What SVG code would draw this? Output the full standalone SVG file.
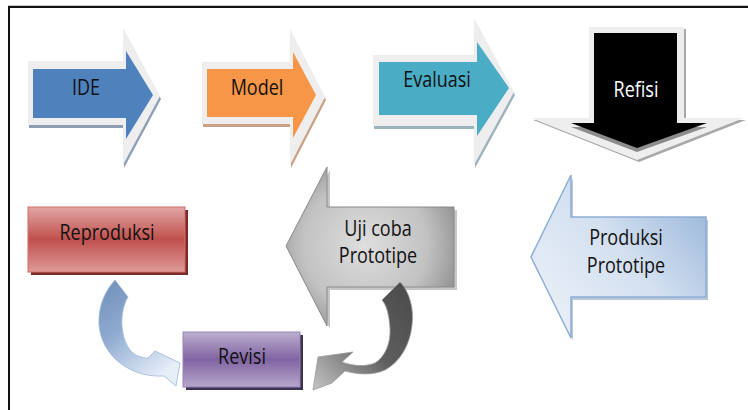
<svg xmlns="http://www.w3.org/2000/svg" width="748" height="410" viewBox="0 0 748 410">
<defs>
  <style>
    .lbl{font-family:"Open Sans","Liberation Sans",sans-serif;font-size:18px;fill:#111;text-anchor:middle}
    .lblw{font-family:"Open Sans","Liberation Sans",sans-serif;font-size:18px;fill:#fff;text-anchor:middle}
    .rim{fill:#eeeeee}
    .frame{stroke:#111;stroke-width:2;fill:none}
  </style>
  <linearGradient id="gRed" x1="0" y1="0" x2="0" y2="1">
    <stop offset="0" stop-color="#e2a7a5"/><stop offset="0.5" stop-color="#c0504d"/><stop offset="1" stop-color="#dd9a98"/>
  </linearGradient>
  <linearGradient id="gPurple" x1="0" y1="0" x2="0" y2="1">
    <stop offset="0" stop-color="#bcaed0"/><stop offset="0.5" stop-color="#8064a2"/><stop offset="1" stop-color="#b7a6cc"/>
  </linearGradient>
  <radialGradient id="gGray" cx="365" cy="245" r="125" gradientUnits="userSpaceOnUse">
    <stop offset="0" stop-color="#dedede"/><stop offset="0.5" stop-color="#c2c2c2"/><stop offset="1" stop-color="#6e6e6e"/>
  </radialGradient>
  <linearGradient id="gBlue" x1="531" y1="338" x2="706" y2="190" gradientUnits="userSpaceOnUse">
    <stop offset="0" stop-color="#eef3f9"/><stop offset="0.55" stop-color="#d3e0f0"/><stop offset="1" stop-color="#95b3d8"/>
  </linearGradient>
  <linearGradient id="gCurveBlue" x1="0" y1="0" x2="0.6" y2="1">
    <stop offset="0" stop-color="#6d8db8"/><stop offset="0.45" stop-color="#8eaad0"/><stop offset="1" stop-color="#e6eef8"/>
  </linearGradient>
  <linearGradient id="gCurveGray" x1="1" y1="0" x2="0" y2="1">
    <stop offset="0" stop-color="#4a4a4a"/><stop offset="0.5" stop-color="#5e5e5e"/><stop offset="1" stop-color="#c4c4c4"/>
  </linearGradient>
</defs>

<g id="frame">
  <path d="M8,5.5 H748" stroke="#c8c8c8" stroke-width="1"/>
  <path class="frame" d="M9,410 V7 H748"/>
</g>

<g id="node-ide">
  <polygon fill="#8d9fb5" points="29,64 124,64 124,31 161,99 124,168 124,128 29,128"/>
  <polygon class="rim" points="28,61 123,61 123,28 160,96 123,165 123,125 28,125"/>
  <polygon fill="#4f81bd" points="33,69 126,69 126,51 153,95 126,139 126,118 33,118"/>
  <text class="lbl" transform="translate(86,95) scale(1,1.2)">IDE</text>
</g>

<g id="node-model">
  <polygon fill="#c9a184" points="203,65 291,65 291,32 326,100 291,168 291,127 203,127"/>
  <polygon class="rim" points="202,62 290,62 290,29 325,97 290,165 290,124 202,124"/>
  <polygon fill="#f79646" points="207,69 293,69 293,52 316,95 293,138 293,117 207,117"/>
  <text class="lbl" transform="translate(257,95) scale(1,1.2)">Model</text>
</g>

<g id="node-evaluasi">
  <polygon fill="#9db3bc" points="374,58 475,58 475,21 515,95 475,168 475,129 374,129"/>
  <polygon class="rim" points="373,55 474,55 474,18 514,92 474,165 474,126 373,126"/>
  <polygon fill="#4bacc6" points="379,62 477,62 477,42 509,88 477,136 477,115 379,115"/>
  <text class="lbl" transform="translate(437,87) scale(1,1.2)">Evaluasi</text>
</g>

<g id="node-refisi">
  <polygon fill="#a8a8a8" points="591,29 686,29 686,120 746,120 639,162 533,120 591,120"/>
  <polygon class="rim" points="589,27 684,27 684,118 744,118 637,160 531,118 589,118"/>
  <polygon fill="#8c8c8c" points="594,37 677,37 677,127 707,127 637,152 571,127 594,127"/>
  <polygon fill="#000" points="594,33 677,33 677,123 707,123 637,148 571,123 594,123"/>
  <text class="lblw" transform="translate(636,97) scale(1,1.2)">Refisi</text>
</g>

<g id="node-produksi-prototipe">
  <polygon fill="#b8c8dc" points="533,260 573,178 573,220 708,220 708,300 573,300 573,341"/>
  <polygon fill="url(#gBlue)" stroke="#8eadd6" stroke-width="1.5" points="531,257 571,175 571,217 706,217 706,297 571,297 571,338"/>
  <text class="lbl" transform="translate(626,245) scale(1,1.2)">Produksi</text>
  <text class="lbl" transform="translate(626,273) scale(1,1.2)">Prototipe</text>
</g>

<g id="node-uji-coba-prototipe">
  <polygon fill="#a0a0a0" opacity="0.6" points="289,249 330,170 330,210 457,210 457,290 330,290 330,329"/>
  <polygon fill="url(#gGray)" stroke="#8a8a8a" stroke-width="1" points="286,246 327,167 327,207 454,207 454,287 327,287 327,326"/>
  <text class="lbl" transform="translate(378,236) scale(1,1.2)">Uji coba</text>
  <text class="lbl" transform="translate(378,263) scale(1,1.2)">Prototipe</text>
</g>

<g id="node-reproduksi">
  <rect x="31" y="210" width="157" height="65" fill="#7a2b29"/>
  <rect x="28" y="207" width="157" height="65" fill="url(#gRed)" stroke="#cf6e6b" stroke-width="1"/>
  <text class="lbl" transform="translate(107,240) scale(1,1.2)">Reproduksi</text>
</g>

<g id="node-revisi">
  <rect x="186" y="335" width="117" height="55" fill="#3f3151"/>
  <rect x="183" y="332" width="117" height="55" fill="url(#gPurple)" stroke="#9783b5" stroke-width="1"/>
  <text class="lbl" transform="translate(242,364) scale(1,1.2)">Revisi</text>
</g>

<g id="connectors">
  <path fill="url(#gCurveBlue)" stroke="#9fb6d6" stroke-width="0.8" d="M115,280 L128,297 C120,310 119,335 130,350 C135,356 142,358 148,358 L155,351 L180,363 L176,386 L164,376 C125,378 97,350 99,318 C100,300 108,288 115,280 Z"/>
  <path fill="url(#gCurveGray)" stroke="#9a9a9a" stroke-width="0.8" d="M400,282 C410,292 414,310 412,325 C410,345 400,362 385,370 C372,376 355,374 345,371 L332,383 L313,390 L318,357 L353,352 L342,362 C352,366 365,367 375,363 C385,357 391,343 390,328 C389,315 387,306 382,300 Z"/>
</g>
</svg>
